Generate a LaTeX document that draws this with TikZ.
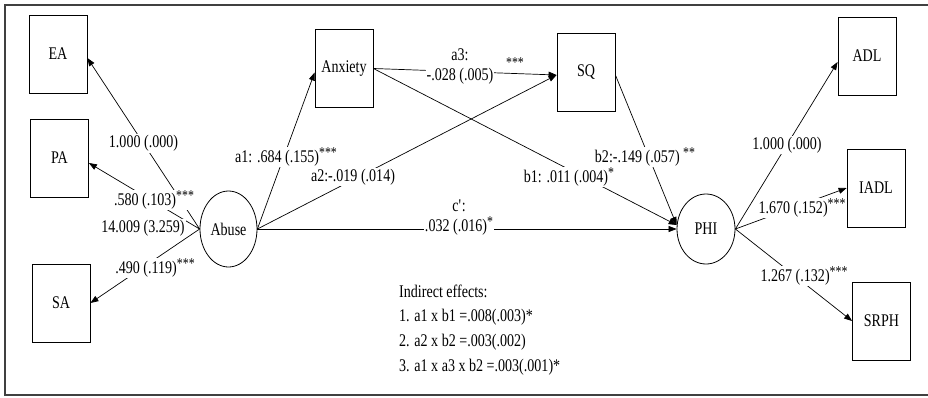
\documentclass[tikz,border=0pt]{standalone}
\usepackage{fontspec}
\setmainfont{Liberation Serif}[FakeStretch=0.79]
\usetikzlibrary{arrows.meta,shapes.geometric}
\newcommand\sigst[1]{\raisebox{5pt}{\fontsize{15}{15}\selectfont #1}}
\begin{document}
\begin{tikzpicture}[x=1pt,y=-1pt,
  font=\fontsize{17.8}{20}\selectfont,
  box/.style={draw, line width=0.8pt, minimum width=58pt, minimum height=78pt, inner sep=0pt},
  latent/.style={draw, ellipse, line width=0.8pt, minimum width=57pt, minimum height=76pt, inner sep=0pt},
  lbl/.style={fill=white, inner sep=1pt},
  txt/.style={inner sep=0pt, anchor=west},
  path/.style={line width=0.7pt, -{Triangle[length=8pt,width=6pt]}},
  frame/.style={draw=black!75, line width=1.5pt}]
\useasboundingbox (0,0) rectangle (928,397);
\clip (0,0) rectangle (928,397);
\draw[frame] (5,5) rectangle (945,395);

% nodes
\node[box] (EA) at (58,54) {EA};
\node[box] (PA) at (59.5,158) {PA};
\node[box] (SA) at (61,303) {SA};
\node[box] (Anx) at (344,68.5) {Anxiety};
\node[box] (SQ) at (586,72) {SQ};
\node[box] (ADL) at (867,56) {ADL};
\node[box] (IADL) at (876,188) {IADL};
\node[box] (SRPH) at (881.5,321) {SRPH};
\node[latent] (Abuse) at (228.5,229) {Abuse};
\node[latent, minimum width=58pt, minimum height=70pt] (PHI) at (706,229) {PHI};

% measurement model, Abuse
\draw[path] (Abuse.west) -- ([yshift=-4pt]EA.east) node[lbl, pos=0.5] (lEA) {1.000 (.000)};
\draw[path] (Abuse.west) -- ([yshift=-5pt]PA.east);
\node[lbl] (lPA) at (154,200) {.580 (.103)\sigst{***}};
\node[lbl] (lvar) at (143,228) {14.009 (3.259)};
\draw[path] (Abuse.west) -- (SA.east);
\node[lbl] (lSA) at (155,268) {.490 (.119)\sigst{***}};

% structural paths
\draw[path] (Abuse.east) -- ([yshift=-4pt]Anx.west);
\node[lbl] (la1) at (286,157) {a1: .684 (.155)\sigst{***}};
\draw[path] (Abuse.east) -- ([yshift=-3pt]SQ.west);
\node[lbl] (la2) at (353,177) {a2:-.019 (.014)};
\draw[path] (Anx.east) -- ([yshift=-3pt]SQ.west);
\node[lbl, align=center] (la3) at (460,66) {a3:\\-.028 (.005)};
\node[inner sep=0pt] (la3s) at (515,63) {\fontsize{15}{15}\selectfont ***};
\draw[path] (Anx.east) -- ([yshift=4pt]PHI.west);
\node[lbl] (lb1) at (569,177) {b1: .011 (.004)\sigst{*}};
\draw[path] ([yshift=-3pt]SQ.east) -- ([yshift=4pt]PHI.west);
\node[lbl] (lb2) at (645,157) {b2:-.149 (.057) \sigst{**}};
\draw[path] (Abuse.east) -- (PHI.west);
\node[lbl, align=center] (lc) at (459,218) {c\textquotesingle:\\.032 (.016)\sigst{*}};

% measurement model, PHI
\draw[path] (PHI.east) -- ([yshift=-6pt]ADL.west);
\node[lbl] (lADL) at (787,145) {1.000 (.000)};
\draw[path] (PHI.east) -- (IADL.west);
\node[lbl] (lIADL) at (802,208) {1.670 (.152)\sigst{***}};
\draw[path] (PHI.east) -- (SRPH.west);
\node[lbl] (lSRPH) at (804,276) {1.267 (.132)\sigst{***}};

% indirect effects
\node[txt] (ie0) at (399,291) {Indirect effects:};
\node[txt] (ie1) at (399,317) {1. a1 x b1 =.008(.003)*};
\node[txt] (ie2) at (399,342) {2. a2 x b2 =.003(.002)};
\node[txt] (ie3) at (399,367) {3. a1 x a3 x b2 =.003(.001)*};
\end{tikzpicture}
\end{document}
